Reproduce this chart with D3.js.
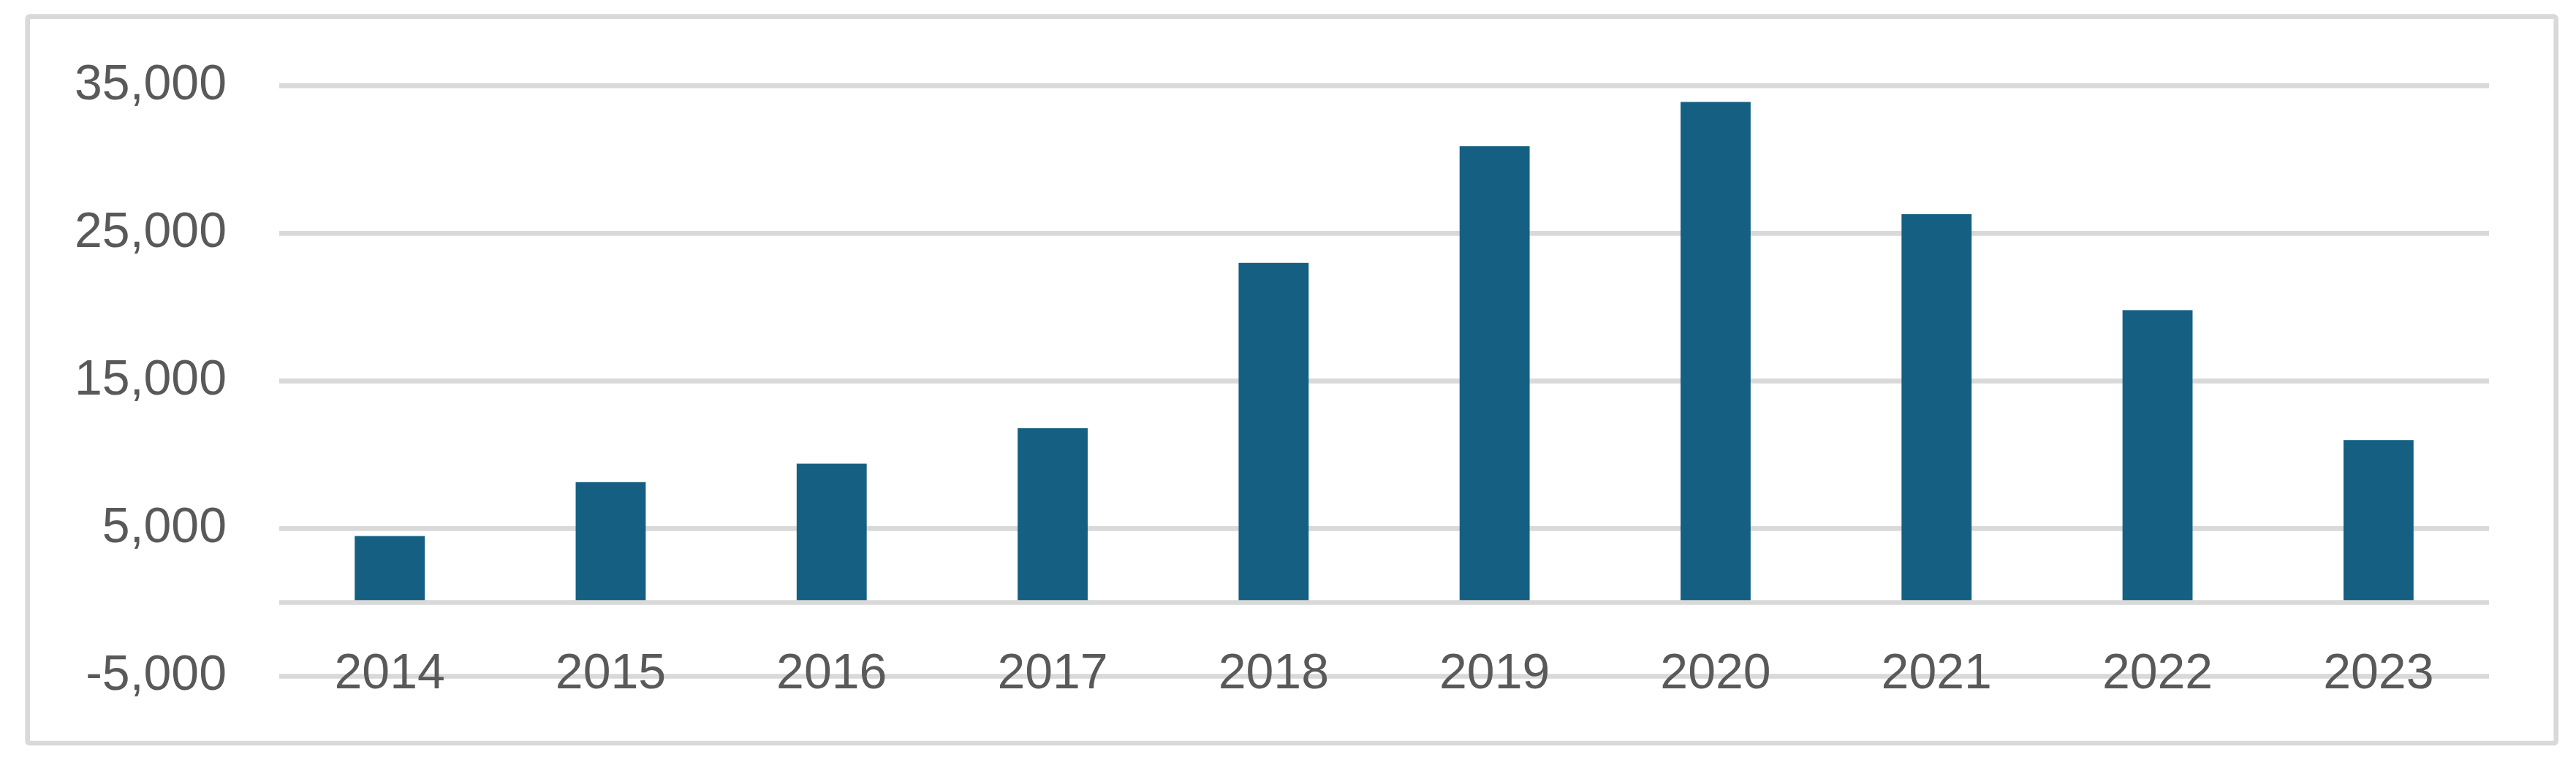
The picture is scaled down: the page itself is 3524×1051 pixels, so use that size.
<!DOCTYPE html>
<html>
<head>
<meta charset="utf-8">
<script src="https://cdn.jsdelivr.net/npm/d3@7"></script>
<style>
    html, body { margin: 0; padding: 0; background: #ffffff; }
    svg { display: block; }
    text { font-family: "Liberation Sans", Arial, sans-serif; fill: #595959; }
</style>
</head>
<body>
<div id="chart"></div>
<script>
const years = ['2014', '2015', '2016', '2017', '2018', '2019', '2020', '2021', '2022', '2023'];
const counts = [4500, 8150, 9400, 11800, 23000, 30900, 33900, 26300, 19800, 11000];
const yTicks = [-5000, 5000, 15000, 25000, 35000];

const width = 3524;
const height = 1051;
const plot = { left: 382, right: 3405, top: 117.3, bottom: 925.5 };

const svg = d3.select('#chart')
    .append('svg')
    .attr('width', width)
    .attr('height', height);

// chart area border
svg.append('rect')
    .attr('x', 37.7)
    .attr('y', 22.7)
    .attr('width', 3496.7 - 37.7)
    .attr('height', 1017 - 22.7)
    .attr('rx', 3)
    .attr('fill', '#ffffff')
    .attr('stroke', '#d9d9d9')
    .attr('stroke-width', 6.7);

const x = d3.scaleBand()
    .domain(years)
    .range([plot.left, plot.right])
    .paddingInner(0.683)
    .paddingOuter(0.3415);

const y = d3.scaleLinear()
    .domain([-5000, 35000])
    .range([plot.bottom, plot.top]);

// gridlines
svg.append('g')
    .selectAll('line')
    .data(yTicks)
    .enter()
    .append('line')
    .attr('x1', plot.left)
    .attr('x2', plot.right)
    .attr('y1', (d) => y(d))
    .attr('y2', (d) => y(d))
    .attr('stroke', '#d9d9d9')
    .attr('stroke-width', 6.7);

// y axis labels, plain hyphen for negatives like the original
const fmt = d3.format(',');
const yAxis = d3.axisLeft(y)
    .tickValues(yTicks)
    .tickSize(0)
    .tickPadding(0)
    .tickFormat((d) => fmt(d).replace('\u2212', '-'));

const yg = svg.append('g')
    .attr('transform', 'translate(310, 0)')
    .call(yAxis);
yg.select('.domain').remove();
yg.selectAll('text')
    .attr('font-size', 68)
    .attr('font-family', '"Liberation Sans", Arial, sans-serif')
    .attr('fill', '#595959')
    .attr('dy', 18);

// bars
svg.append('g')
    .selectAll('rect')
    .data(years.map((yr, i) => ({ year: yr, value: counts[i] })))
    .enter()
    .append('rect')
    .attr('x', (d) => x(d.year))
    .attr('y', (d) => y(d.value))
    .attr('width', x.bandwidth())
    .attr('height', (d) => y(0) - y(d.value))
    .attr('fill', '#156082');

// horizontal axis line at zero
svg.append('line')
    .attr('x1', plot.left)
    .attr('x2', plot.right)
    .attr('y1', y(0))
    .attr('y2', y(0))
    .attr('stroke', '#d9d9d9')
    .attr('stroke-width', 6.7);

// category labels (positioned low, beneath the plot)
const xAxis = d3.axisBottom(x).tickSize(0).tickPadding(0);
const xg = svg.append('g')
    .attr('transform', 'translate(0, 942)')
    .call(xAxis);
xg.select('.domain').remove();
xg.selectAll('text')
    .attr('font-size', 68)
    .attr('font-family', '"Liberation Sans", Arial, sans-serif')
    .attr('fill', '#595959')
    .attr('y', 0)
    .attr('dy', 0);
</script>
</body>
</html>
